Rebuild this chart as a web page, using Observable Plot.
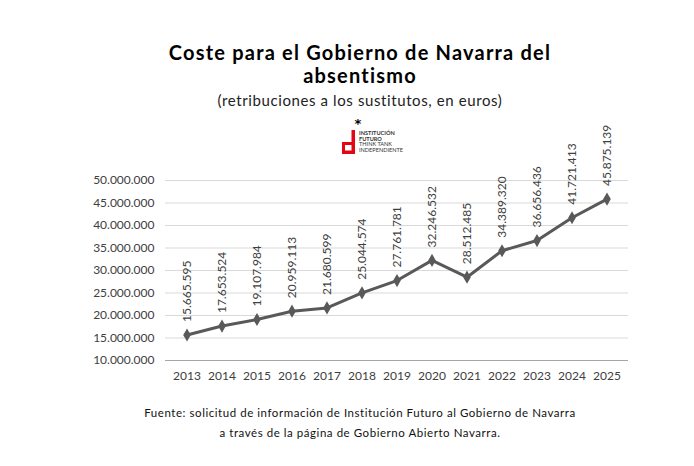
<!DOCTYPE html>
<html><head><meta charset="utf-8">
<script src="https://cdn.jsdelivr.net/npm/d3@7"></script>
<script src="https://cdn.jsdelivr.net/npm/@observablehq/plot@0.6"></script>
<style>
html,body{margin:0;padding:0;background:#fff;overflow:hidden;}
body{width:694px;height:466px;position:relative;font-family:Lato,"DejaVu Sans",sans-serif;color:#000;}
.c{position:absolute;left:26px;width:668px;text-align:center;}
#t{top:41px;font-size:20px;font-weight:bold;line-height:23px;letter-spacing:1.2px;}
#s{top:91px;font-size:15px;font-weight:400;color:#222;letter-spacing:0.6px;}
#chart{position:absolute;left:0;top:110px;}
#f{top:403px;font-size:11.5px;line-height:20px;color:#111;letter-spacing:0.55px;}
#logo{position:absolute;left:338px;top:115px;}
</style></head><body>
<div class="c" id="t">Coste para el Gobierno de Navarra del<br>absentismo</div>
<div class="c" id="s">(retribuciones a los sustitutos, en euros)</div>
<div id="chart"></div>
<div id="logo"><svg width="70" height="45" viewBox="0 0 70 45">
<text x="20" y="13" font-size="13" font-weight="bold" font-family="DejaVu Sans,sans-serif" text-anchor="middle" fill="#000">*</text>
<g fill="#e30613">
<rect x="13.5" y="15" width="3.5" height="24"/>
<rect x="4" y="27" width="13" height="3"/>
<rect x="4" y="27" width="3" height="12"/>
<rect x="4" y="35.5" width="13" height="3.5"/>
</g>
<g font-family="Lato,sans-serif" font-size="5.6" fill="#333">
<text x="21" y="20" font-weight="bold">INSTITUCIÓN</text>
<text x="21" y="25.5" font-weight="bold">FUTURO</text>
<text x="21" y="31">THINK TANK</text>
<text x="21" y="36.5">INDEPENDIENTE</text>
</g></svg></div>
<div class="c" id="f">Fuente: solicitud de información de Institución Futuro al Gobierno de Navarra<br>a través de la página de Gobierno Abierto Navarra.</div>
<script>
const years = ["2013","2014","2015","2016","2017","2018","2019","2020","2021","2022","2023","2024","2025"];
const values = [15665595,17653524,19107984,20959113,21680599,25044574,27761781,32246532,28512485,34389320,36656436,41721413,45875139];
const yTicks = [10000000,15000000,20000000,25000000,30000000,35000000,40000000,45000000,50000000];

const loc = d3.formatLocale({decimal:",", thousands:".", grouping:[3], currency:["","€"]});
const fmt = loc.format(",d");
const data = years.map((y,i)=>({year:y, value:values[i]}));

const chart = Plot.plot({
  width: 694,
  height: 280,
  marginTop: 70,
  marginBottom: 30,
  marginLeft: 165,
  marginRight: 66,
  style: {fontFamily: "Lato, 'DejaVu Sans', sans-serif", fontSize: "12px", color: "#404040", overflow: "visible", background: "transparent"},
  x: {type: "band", domain: years, padding: 0, label: null},
  y: {domain: [10000000, 50000000], label: null},
  marks: [
    Plot.ruleY(yTicks.slice(1), {stroke: "#d9d9d9", strokeWidth: 1, strokeOpacity: 1}),
    Plot.ruleY([10000000], {stroke: "#a6a6a6", strokeWidth: 1}),
    Plot.axisY({ticks: yTicks, tickFormat: fmt, tickSize: 0, tickPadding: 11, fontSize: 12, fill: "#404040"}),
    Plot.axisX({tickSize: 0, tickPadding: 11, fontSize: 12, fill: "#404040"}),
    Plot.line(data, {x: "year", y: "value", stroke: "#595959", strokeWidth: 3}),
    Plot.dot(data, {x: "year", y: "value", symbol: "diamond", r: 4, fill: "#595959", stroke: "none"}),
    Plot.text(data, {x: "year", y: "value", text: d => fmt(d.value), rotate: -90, textAnchor: "start", dy: -13, fontSize: 12, fill: "#404040"})
  ]
});
document.getElementById("chart").appendChild(chart);
</script>
</body></html>
